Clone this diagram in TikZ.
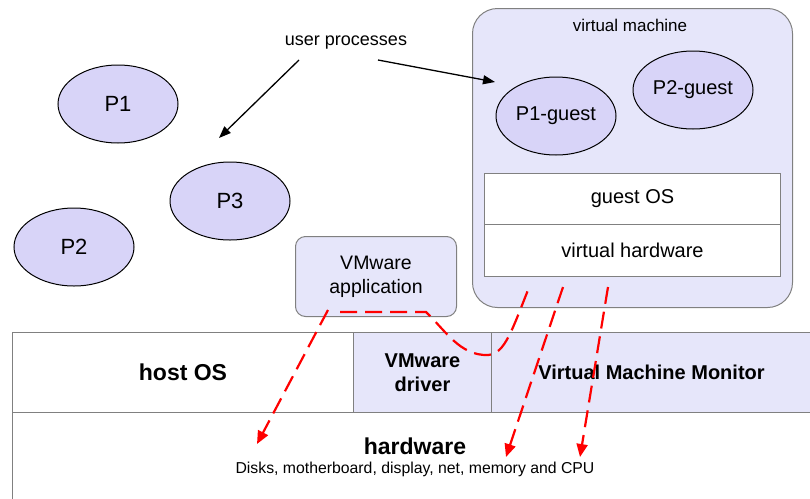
\documentclass[tikz,border=0pt]{standalone}
\usepackage{fontspec}
\setmainfont{Liberation Sans}
\usepackage{xcolor}
\usepackage{tikz}
\usetikzlibrary{shapes.geometric,arrows.meta}
\definecolor{boxfill}{RGB}{230,230,250}
\definecolor{procfill}{RGB}{216,212,248}
\definecolor{edgegray}{RGB}{128,128,128}
\newcommand{\fs}[2]{\fontsize{#1}{#2}\selectfont}
\tikzstyle{centered} = [align=center, text centered]
\tikzstyle{proc} = [centered, ellipse, draw=black, line width=1pt, fill=procfill, minimum width=120pt, minimum height=78pt, inner sep=0pt]
\tikzset{
  % connector styles
  pointer/.style={draw=black, line width=1.3pt, -{Triangle[length=12pt,width=9pt]}},
  redpath/.style={draw=red, line width=2.2pt, dash pattern=on 17pt off 8pt},
  redarrow/.style={redpath, -{Triangle[length=13pt,width=11pt]}},
  % node styles
  layer/.style={centered, rectangle, draw=edgegray, line width=1pt, anchor=north west, inner sep=0pt},
  whitelayer/.style={layer, fill=white},
  lavlayer/.style={layer, fill=boxfill},
  guestbox/.style={whitelayer, minimum width=296pt, font=\fs{20}{24}},
}

\begin{document}
\begin{tikzpicture}[x=1pt, y=-1pt]
        \useasboundingbox (0,0) rectangle (810,498);
        \clip (0,0) rectangle (810,498);
        % host layers
        \node(HOS)[whitelayer, minimum width=341pt, minimum height=80pt, font=\fs{23}{28}\bfseries] at (12,332) {host OS};
        \node(VMD)[lavlayer, minimum width=138pt, minimum height=80pt, font=\fs{20}{24}\bfseries] at (353,332) {VMware\\driver};
        \node(VMM)[lavlayer, minimum width=320pt, minimum height=80pt, font=\fs{20}{24}\bfseries] at (491,332) {Virtual Machine Monitor};
        \node(HW)[whitelayer, minimum width=799pt, minimum height=87pt] at (12,412) {};
        \node(HWT)[font=\fs{23}{28}\bfseries] at (415,446) {hardware};
        \node(HWD)[font=\fs{15.8}{19}] at (415,469) {Disks, motherboard, display, net, memory and CPU};
        % host processes
        \node(P1)[proc, font=\fs{22}{26}] at (118,104) {P1};
        \node(P3)[proc, font=\fs{22}{26}] at (230,201) {P3};
        \node(P2)[proc, font=\fs{22}{26}] at (74,247) {P2};
        \node(VMA)[lavlayer, rounded corners=10pt, minimum width=161pt, minimum height=80pt, font=\fs{19.5}{24}] at (295,236) {VMware\\application};
        % virtual machine
        \node(VM)[lavlayer, rounded corners=25pt, minimum width=320pt, minimum height=299pt] at (472,8) {};
        \node(VML)[font=\fs{17}{20}] at (630,25) {virtual machine};
        \node(P1G)[proc, font=\fs{20}{24}] at (556,116) {P1-guest};
        \node(P2G)[proc, font=\fs{20}{24}] at (693,90) {P2-guest};
        \node(GOS)[guestbox, minimum height=51pt] at (484,173) {guest OS};
        \node(VHW)[guestbox, minimum height=52pt] at (484,224) {virtual hardware};
        % user processes
        \node(UP)[font=\fs{18}{22}] at (346,43) {user processes};
        \coordinate (UPL) at (299,60);
        \coordinate (UPR) at (378,60);
        \coordinate (P3T) at (219,138);
        \coordinate (P1GT) at (495,82);
        \draw[pointer] (UPL) -- (P3T);
        \draw[pointer] (UPR) -- (P1GT);
        % calls down to the hardware
        \coordinate (R1S) at (328,310);
        \coordinate (R1E) at (257,444);
        \coordinate (R2S) at (340,312);
        \coordinate (R2A) at (426,312);
        \coordinate (R2B) at (488,355);
        \coordinate (R2E) at (530,285);
        \coordinate (R3S) at (563,287);
        \coordinate (R3E) at (506,457);
        \coordinate (R4S) at (608,287);
        \coordinate (R4E) at (580,457);
        \draw[redarrow] (R1S) -- (R1E);
        \draw[redpath] (R2S) -- (R2A) .. controls (445,330) and (460,356) .. (R2B) .. controls (505,354) and (512,330) .. (R2E);
        \draw[redarrow] (R3S) -- (R3E);
        \draw[redarrow] (R4S) -- (R4E);
\end{tikzpicture}
\end{document}
